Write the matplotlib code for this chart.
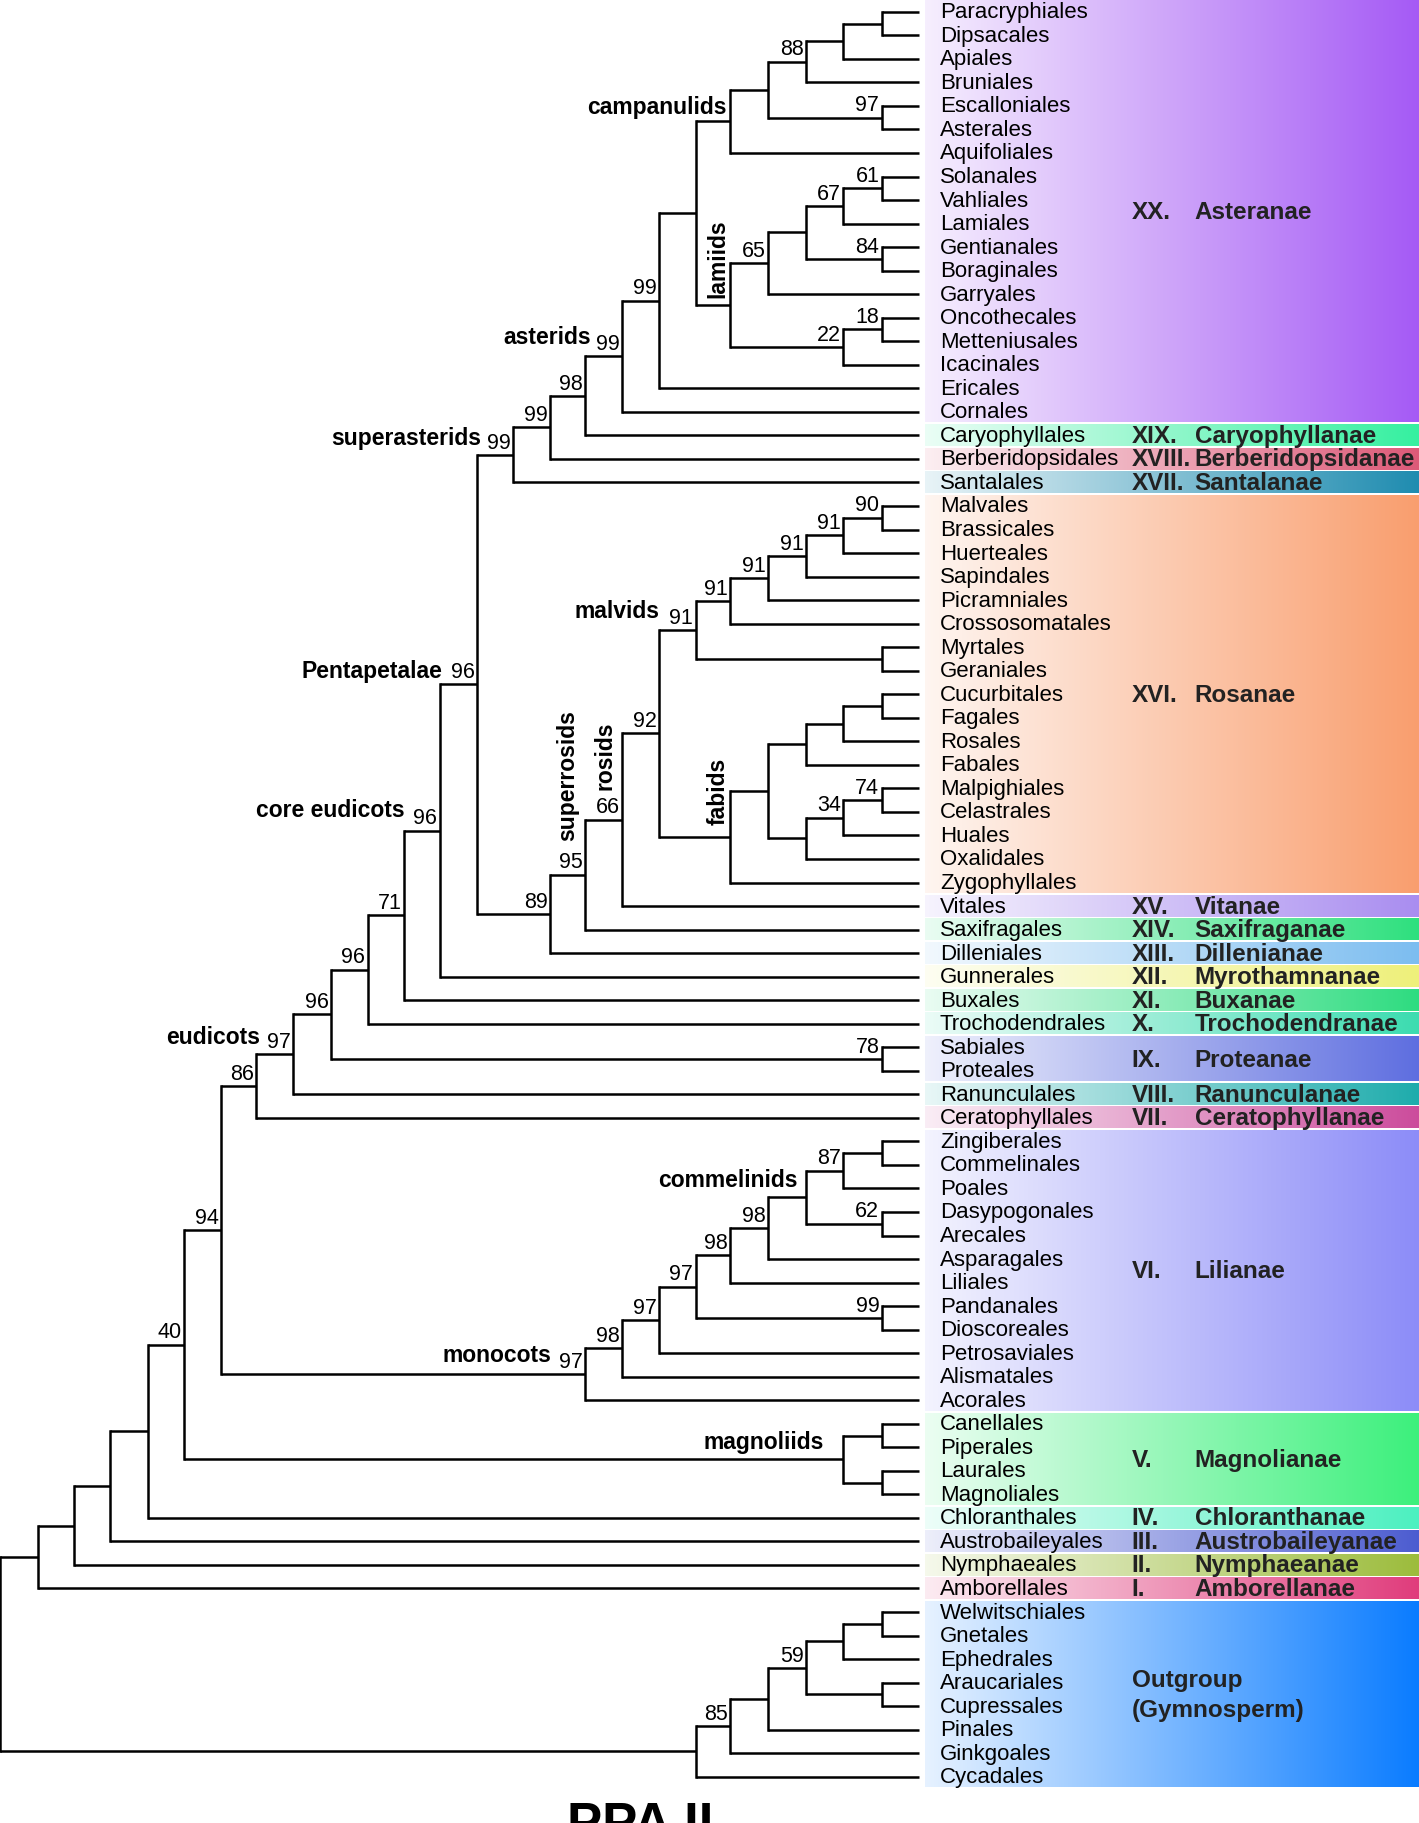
import matplotlib
matplotlib.use("Agg")
import matplotlib.pyplot as plt
import numpy as np
from matplotlib.colors import LinearSegmentedColormap, to_rgb

plt.rcParams['font.family'] = ['Liberation Sans', 'DejaVu Sans']

# x position of each tree level (display units), leaf tip x
LEVEL_X = [0, 33, 64, 95, 127, 158, 190, 220, 252, 285, 316, 347, 378, 410,
           441, 473, 503, 535, 567, 598, 628, 660, 693, 725, 758]
TIP_X = 790
ROW0, ROW_STEP = 11, 20.23


def N(level, support, *children):
    return (level, support, list(children))


# ---- tree data -------------------------------------------------------------
campanulids = N(20, '', N(21, '', N(22, '88', N(23, '', N(24, '', 'Paracryphiales', 'Dipsacales'), 'Apiales'), 'Bruniales'),
                        N(24, '97', 'Escalloniales', 'Asterales')), 'Aquifoliales')
lamiids = N(20, '', N(21, '65', N(22, '', N(23, '67', N(24, '61', 'Solanales', 'Vahliales'), 'Lamiales'),
                                   N(24, '84', 'Gentianales', 'Boraginales')), 'Garryales'),
            N(23, '22', N(24, '18', 'Oncothecales', 'Metteniusales'), 'Icacinales'))
superasterids = N(14, '99', N(15, '99', N(16, '98', N(17, '99', N(18, '99', N(19, '', campanulids, lamiids),
                                                                 'Ericales'), 'Cornales'), 'Caryophyllales'),
                              'Berberidopsidales'), 'Santalales')
malvids = N(19, '91', N(20, '91', N(21, '91', N(22, '91', N(23, '91', N(24, '90', 'Malvales', 'Brassicales'),
                                                          'Huerteales'), 'Sapindales'), 'Picramniales'),
                        'Crossosomatales'), N(24, '', 'Myrtales', 'Geraniales'))
fabids = N(20, '', N(21, '', N(22, '', N(23, '', N(24, '', 'Cucurbitales', 'Fagales'), 'Rosales'), 'Fabales'),
                     N(22, '', N(23, '34', N(24, '74', 'Malpighiales', 'Celastrales'), 'Huales'), 'Oxalidales')),
           'Zygophyllales')
superrosids = N(15, '89', N(16, '95', N(17, '66', N(18, '92', malvids, fabids), 'Vitales'), 'Saxifragales'),
                'Dilleniales')
eudicots = N(7, '86', N(8, '97', N(9, '96', N(10, '96', N(11, '71', N(12, '96', N(13, '96', superasterids, superrosids),
                                                                  'Gunnerales'), 'Buxales'), 'Trochodendrales'),
                                  N(24, '78', 'Sabiales', 'Proteales')), 'Ranunculales'), 'Ceratophyllales')
monocots = N(16, '97', N(17, '98', N(18, '97', N(19, '97', N(20, '98', N(21, '98', N(22, '',
            N(23, '87', N(24, '', 'Zingiberales', 'Commelinales'), 'Poales'), N(24, '62', 'Dasypogonales', 'Arecales')),
            'Asparagales'), 'Liliales'), N(24, '99', 'Pandanales', 'Dioscoreales')), 'Petrosaviales'),
            'Alismatales'), 'Acorales')
magnoliids = N(23, '', N(24, '', 'Canellales', 'Piperales'), N(24, '', 'Laurales', 'Magnoliales'))
gymno = N(19, '', N(20, '85', N(21, '', N(22, '59', N(23, '', N(24, '', 'Welwitschiales', 'Gnetales'), 'Ephedrales'),
                                         N(24, '', 'Araucariales', 'Cupressales')), 'Pinales'), 'Ginkgoales'), 'Cycadales')
tree = N(0, '', N(1, '', N(2, '', N(3, '', N(4, '', N(5, '40', N(6, '94', eudicots, monocots), magnoliids),
                                             'Chloranthales'), 'Austrobaileyales'), 'Nymphaeales'), 'Amborellales'), gymno)

# clade names: (text, x, y, rotation)
clade_names = [('campanulids', 625, 92, 0), ('asterids', 508, 290, 0), ('superasterids', 414, 377, 0),
               ('Pentapetalae', 380, 577, 0), ('core eudicots', 348, 697, 0), ('eudicots', 224, 892, 0),
               ('malvids', 567, 526, 0), ('commelinids', 686, 1015, 0), ('monocots', 474, 1165, 0),
               ('magnoliids', 708, 1240, 0), ('lamiids', 617, 222, 90), ('fabids', 617, 680, 90),
               ('rosids', 520, 650, 90), ('superrosids', 488, 667, 90)]

# bands: (roman, name, first row, last row, colour)
bands = [('XX.', 'Asteranae', 0, 17, '#a55af5'), ('XIX.', 'Caryophyllanae', 18, 18, '#35f0a0'),
         ('XVIII.', 'Berberidopsidanae', 19, 19, '#dc5a78'), ('XVII.', 'Santalanae', 20, 20, '#1f8cb0'),
         ('XVI.', 'Rosanae', 21, 37, '#f99e6e'), ('XV.', 'Vitanae', 38, 38, '#a98df0'),
         ('XIV.', 'Saxifraganae', 39, 39, '#2ee07e'), ('XIII.', 'Dillenianae', 40, 40, '#7cbdf0'),
         ('XII.', 'Myrothamnanae', 41, 41, '#eef07a'), ('XI.', 'Buxanae', 42, 42, '#2edc80'),
         ('X.', 'Trochodendranae', 43, 43, '#3cdcb0'), ('IX.', 'Proteanae', 44, 45, '#5e6ee0'),
         ('VIII.', 'Ranunculanae', 46, 46, '#1eacac'), ('VII.', 'Ceratophyllanae', 47, 47, '#cc4c9c'),
         ('VI.', 'Lilianae', 48, 59, '#8c8cf8'), ('V.', 'Magnolianae', 60, 63, '#3cf07c'),
         ('IV.', 'Chloranthanae', 64, 64, '#4cf0c0'), ('III.', 'Austrobaileyanae', 65, 65, '#4c5cd0'),
         ('II.', 'Nymphaeanae', 66, 66, '#9cbc3c'), ('I.', 'Amborellanae', 67, 67, '#e03c7c'),
         ('', 'Outgroup\n(Gymnosperm)', 68, 75, '#0a7cff')]

# ---- drawing ----------------------------------------------------------------
fig = plt.figure(figsize=(14.19, 18.24), dpi=100)
ax = fig.add_axes([0, 0, 1, 1])
ax.set_xlim(0, 1220)
ax.set_ylim(1568, 0)
ax.axis('off')

for roman, name, r0, r1, col in bands:
    y0 = ROW0 + r0 * ROW_STEP - ROW_STEP / 2 + 1
    y1 = ROW0 + r1 * ROW_STEP + ROW_STEP / 2 - 1
    c = np.array(to_rgb(col))
    cmap = LinearSegmentedColormap.from_list('b', [c * 0.1 + 0.9, c * 0.55 + 0.45, c])
    ax.imshow(np.linspace(0, 1, 256)[None, :], cmap=cmap, extent=(795, 1220, y1, y0),
              aspect='auto', zorder=0)
    yc = (y0 + y1) / 2
    if roman:
        ax.text(973, yc, roman, fontsize=17.5, fontweight='bold', va='center', color='#222')
        ax.text(1027, yc, name, fontsize=17.5, fontweight='bold', va='center', color='#222')
    else:
        ax.text(973, yc, name, fontsize=17.5, fontweight='bold', va='center', color='#222',
                linespacing=1.4)

rows = [0]


def draw(node):
    if isinstance(node, str):
        y = ROW0 + rows[0] * ROW_STEP
        rows[0] += 1
        ax.text(TIP_X + 18, y, node, fontsize=16, va='center', zorder=3)
        return TIP_X, y
    level, sup, children = node
    x = LEVEL_X[level]
    pts = [draw(ch) for ch in children]
    ys = [p[1] for p in pts]
    for cx, cy in pts:
        ax.plot([x, cx], [cy, cy], color='black', lw=1.8, solid_capstyle='butt', zorder=2)
    ax.plot([x, x], [ys[0], ys[-1]], color='black', lw=1.8, solid_capstyle='projecting', zorder=2)
    y = (ys[0] + ys[-1]) / 2
    if sup:
        ax.text(x - 2, y - 2, sup, fontsize=15.5, ha='right', va='bottom', zorder=3)
    return x, y


draw(tree)

for text, x, y, rot in clade_names:
    if rot:
        ax.text(x, y, text, fontsize=16.5, fontweight='bold', rotation=90, ha='center', va='center')
    else:
        ax.text(x, y, text, fontsize=16.5, fontweight='bold', ha='right', va='center')

ax.text(550, 1548, 'PPA II', fontsize=38, fontweight='bold', ha='center', va='top')

fig.savefig('out.png', dpi=100)
